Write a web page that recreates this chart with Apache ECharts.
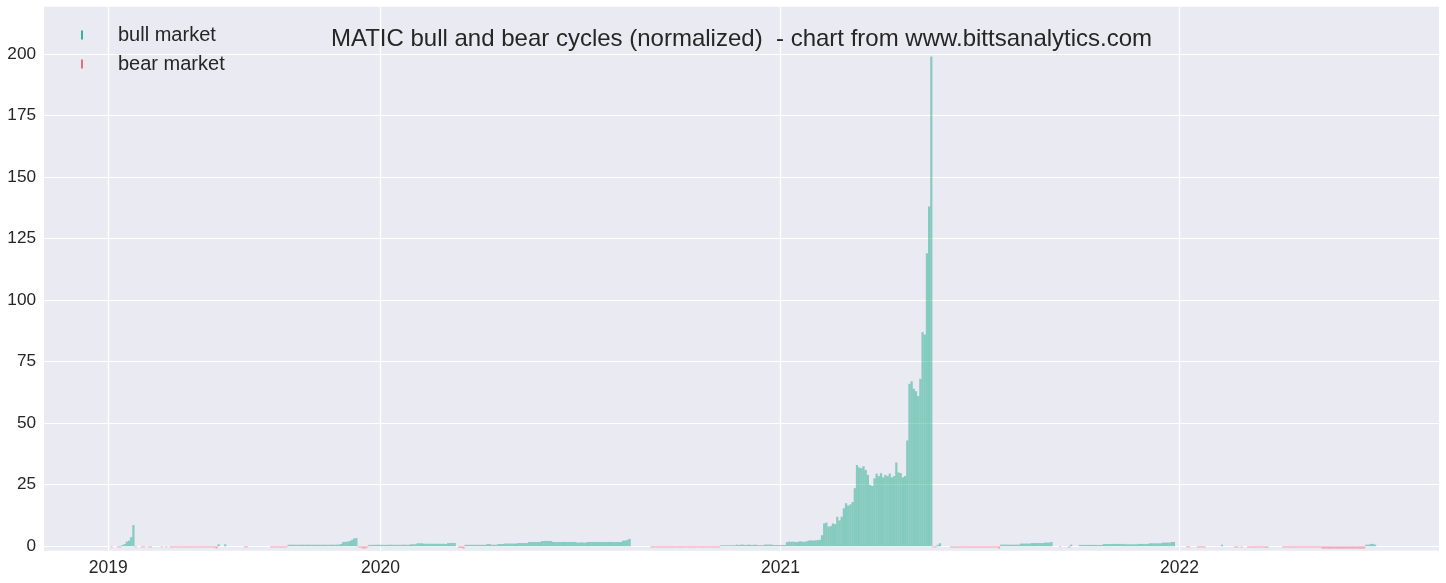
<!DOCTYPE html>
<html><head><meta charset="utf-8">
<script src="https://cdn.jsdelivr.net/npm/echarts@6/dist/echarts.min.js"></script>
<style>html,body{margin:0;padding:0;background:#fff}#chart{width:1446px;height:583px}</style>
</head><body><div id="chart"></div>
<script>
const titleText = 'MATIC bull and bear cycles (normalized)  - chart from www.bittsanalytics.com';
const seriesNames = ['bull market', 'bear market'];
// each bar = one bucket of 2 trading days, indexed from the first day of data (2019)
const daysPerBucket = 2;
const yearTickDays = [0, 249, 615, 980];
const yearTickLabels = ['2019', '2020', '2021', '2022'];
const yTickValues = [0, 25, 50, 75, 100, 125, 150, 175, 200];

// [first bucket index, values...]
const bullRuns = [
  [6, [0.5, 0.9, 1.9, 2.3, 3.7, 8.6]],
  [50, [0.8]],
  [53, [0.8]],
  [82, [0.6,0.6,0.65,0.6,0.6,0.6,0.65,0.6,0.6,0.65,0.6,0.6,0.6,0.65,0.6,0.6,0.65,0.6,0.6,0.6,0.65,0.6,0.65,0.7,
        0.9,1.75,1.8,1.9,2.1,2.6,3.2,3.3]],
  [119, [0.6,0.55,0.6,0.6,0.65,0.6,0.6,0.55,0.6,0.6,0.65,0.6,0.6,0.6,0.55,0.6,0.65,0.6,0.6,
         0.8,0.8,0.8, 1.2,1.2,1.2, 1.0,1.0,1.05,1.0,1.0,1.0,1.05,1.0,1.0,1.0, 0.9, 1.3,1.3,1.35,1.3]],
  [163, [0.6,0.6,0.6,0.6,0.6,0.6,0.6,0.6,0.6,0.6, 0.9,0.9, 0.6,0.6,0.6, 0.9,0.9,0.9,
         1.1,1.1,1.1,1.1,1.1,1.1, 1.3,1.3,1.3,1.3,1.3, 1.75,1.75,1.75,1.75,1.75,1.75,
         2.15,2.15,2.2,2.15,2.15, 1.75,1.75,1.75,1.75,1.75,1.75,1.75,1.75,1.75,1.75,1.75,
         1.5,1.5,1.6,1.5,1.5, 1.75,1.75,1.75,1.75,1.75,1.75,1.75,1.75,1.75,1.75,1.75,1.75,1.75,1.75,1.75,1.75,
         2.3,2.3, 2.6, 3.0]],
  [280, [0.4,0.4,0.4,0.4,0.4,0.4,0.4, 0.65,0.5,0.65,0.65,0.5,0.65,0.65,0.5,0.65,0.6, 0.45,0.45,0.45,
         0.7,0.7,0.7,0.7, 0.5,0.5,0.5,0.5,0.5,0.5,
         1.7,1.9,1.8,1.9,1.7,1.8,2.0,1.9,1.8,2.0,
         2.3,2.4,2.3,2.4,2.5,2.6,
         4.5,9.3, 9.6,8.0,8.2, 9.3,9.0, 12.0,10.5,12.0,15.4, 17.5,16.5,17.0,18.0, 23.6,
         33,32,31.7,32.5,31, 29,25,24.5,
         27.6,29.5,28.5,29.7,28,29,28.5,29.5, 28,28.5, 34, 30,29.7, 28,28.5, 43,
         66,67,64,63,61,68,87,86,119,138,199]],
  [379, [0.6, 1.2]],
  [408, [0.65,0.65,0.65,0.65,0.65,0.65,0.65,0.65,0.65, 1.1,1.1,1.1,1.1,1.1, 1.3,1.3,1.3,1.3,1.3,1.3, 1.5,1.5,1.5, 1.75]],
  [440, [0.65]],
  [444, [0.55,0.55,0.55,0.55,0.55,0.55,0.55,0.55,0.55,0.55,0.55, 0.9,0.9,0.9,0.9,0.9, 0.95,0.95,0.95,0.95,0.95,
         0.8,0.8,0.8,0.8,0.8,0.8, 0.95,0.95,0.95,0.95,0.95, 1.2,1.2,1.2,1.2,1.2,1.2, 1.5,1.5,1.5,1.5, 1.75,1.75]],
  [509, [0.6]],
  [575, [0.65,0.65,0.95,0.95,0.65]]
];

const bearRuns = [
  [1, [-0.4]],
  [4, [-0.45, -0.45]],
  [12, [-0.4]],
  [15, [-0.45, -0.4]],
  [18, [-0.4, -0.45]],
  [24, [-0.4]],
  [26, [-0.4]],
  [28, [-0.45,-0.5,-0.45,-0.45,-0.5,-0.45,-0.45,-0.45,-0.5,-0.5,-0.45,-0.45,-0.5,-0.45,-0.45,-0.5,-0.45,-0.5,-0.45,-0.5,-0.55,-0.95]],
  [62, [-0.45, -0.45]],
  [74, [-0.5,-0.5,-0.45,-0.5,-0.5,-0.5,-0.5,-0.45]],
  [114, [-0.45, -0.6, -0.9, -0.95, -0.5]],
  [160, [-0.6, -0.7, -0.95]],
  [248, [-0.5,-0.5,-0.45,-0.5,-0.5,-0.5,-0.45,-0.5,-0.5,-0.5,-0.5,-0.45,-0.5,-0.5,-0.5,-0.5,
         -0.45,-0.5,-0.5,-0.5,-0.5,-0.45,-0.5,-0.5,-0.5,-0.5,-0.45,-0.5,-0.5,-0.5,-0.5,-0.45]],
  [377, [-0.45, -0.5]],
  [385, [-0.5,-0.5,-0.5,-0.55,-0.5,-0.5,-0.5,-0.5,-0.55,-0.5,-0.5,-0.5,-0.5,-0.55,-0.5,-0.5,-0.5,-0.5,-0.55,-0.5,-0.5,-0.5,-0.95]],
  [435, [-0.35]],
  [439, [-0.6]],
  [493, [-0.45, -0.45]],
  [498, [-0.5, -0.5, -0.5, -0.5]],
  [515, [-0.5, -0.5]],
  [518, [-0.5]],
  [521, [-0.5,-0.5,-0.5,-0.55,-0.5,-0.5,-0.5,-0.5,-0.65,-0.5]],
  [537, [-0.5,-0.5,-0.5,-0.5,-0.5,-0.5,-0.5,-0.5,-0.5,-0.5,-0.5,-0.5,-0.5,-0.5,-0.5,-0.5,-0.5,-0.5,
         -1.0,-1.0,-0.95,-1.0,-1.0,-1.0,-0.95,-1.0,-1.0,-1.0,-1.0,-0.95,-1.0,-1.0,-1.0,-1.0,-0.95,-1.0,-1.0,-0.95]]
];

function runsToData(runs) {
  const out = [];
  runs.forEach(([start, vals]) => {
    vals.forEach((v, i) => out.push([(start + i) * daysPerBucket + daysPerBucket / 2, v]));
  });
  return out;
}

const FONT = "'Liberation Sans', Arial, Helvetica, sans-serif";
const TEXT = '#262626';
const chart = echarts.init(document.getElementById('chart'), null, { renderer: 'canvas' });

chart.setOption({
  animation: false,
  backgroundColor: '#ffffff',
  textStyle: { fontFamily: FONT },
  title: {
    text: titleText,
    left: 741.5,
    top: 27,
    padding: 0,
    textAlign: 'center',
    textStyle: { fontFamily: FONT, fontSize: 24, fontWeight: 'normal', color: TEXT }
  },
  legend: {
    orient: 'vertical',
    left: 81,
    top: 25,
    padding: 0,
    itemWidth: 2,
    itemHeight: 9,
    itemGap: 9,
    icon: 'rect',
    textStyle: { fontFamily: FONT, fontSize: 20, color: TEXT, padding: [0, 0, 0, 30] },
    data: [
      { name: seriesNames[0], itemStyle: { color: '#34b394', opacity: 1 } },
      { name: seriesNames[1], itemStyle: { color: '#f06e7a', opacity: 1 } }
    ]
  },
  grid: {
    left: 44, right: 7, top: 6.7, bottom: 32.3,
    show: true, backgroundColor: '#EAEAF2', borderWidth: 0,
    containLabel: false
  },
  xAxis: {
    type: 'value',
    min: -58.8,
    max: 1217.5,
    axisLine: { show: false },
    axisTick: { show: false, customValues: yearTickDays },
    axisLabel: {
      customValues: yearTickDays,
      formatter: (v) => { const i = yearTickDays.indexOf(v); return i >= 0 ? yearTickLabels[i] : ''; },
      fontFamily: FONT, fontSize: 17.5, color: TEXT, margin: 8
    },
    splitLine: { show: true, lineStyle: { color: '#ffffff', width: 1.2 } }
  },
  yAxis: {
    type: 'value',
    min: -1.8,
    max: 219.2,
    axisLine: { show: false },
    axisTick: { show: false, customValues: yTickValues },
    axisLabel: {
      customValues: yTickValues,
      fontFamily: FONT, fontSize: 17.2, color: TEXT, margin: 8
    },
    splitLine: { show: true, lineStyle: { color: '#ffffff', width: 1.2 } }
  },
  series: [
    {
      name: seriesNames[0], type: 'bar', data: runsToData(bullRuns),
      barWidth: 2.2, barGap: '-100%',
      itemStyle: { color: 'rgba(34,172,140,0.5)' }
    },
    {
      name: seriesNames[1], type: 'bar', data: runsToData(bearRuns),
      barWidth: 2.2, barGap: '-100%',
      itemStyle: { color: 'rgba(240,110,125,0.5)' }
    }
  ]
});
</script></body></html>
